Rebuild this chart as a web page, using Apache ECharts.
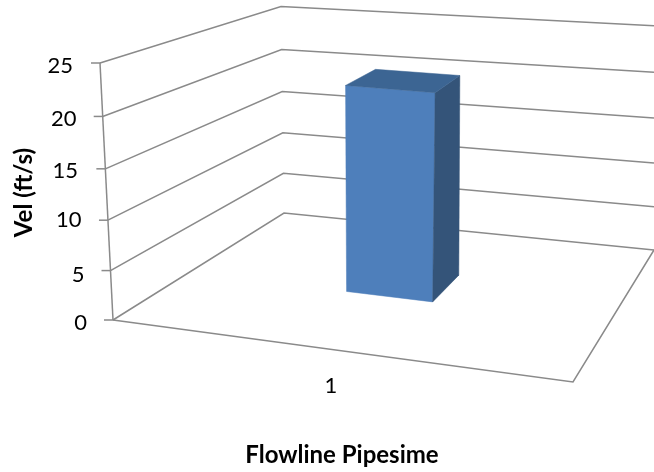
<!DOCTYPE html>
<html><head><meta charset="utf-8">
<style>html,body{margin:0;padding:0;background:#fff}#c{width:654px;height:472px}</style>
<script src="https://cdn.jsdelivr.net/npm/echarts@6/dist/echarts.min.js"></script>
</head><body><div id="c"></div>
<script>
const categories = ['1'];
const velocities = [21.5];
const valueTicks = [0, 5, 10, 15, 20, 25];
const xAxisTitle = 'Flowline Pipesime';
const yAxisTitle = 'Vel (ft/s)';

// Oblique view of the box: screen position of its corners
const FL = [113, 320], BL = [284, 213], BR = [654, 250], FR = [573, 382];
const hFL = [-13, -257], hBL = [-3, -206.5], hBR = [0, -224.3], hFR = [20, -275];
const PERSPECTIVE = 0.05;
const FONT = 'Lato, "Open Sans", sans-serif';
const LINE = '#8a8a8a';
const footprint = {u0: 0.375, u1: 0.58, d0: 0.445, d1: 0.665};
// per-label nudges of the slanted value axis [down, left]
const labelShift = {0: [4, 13], 5: [10, 15.5], 10: [4, 18.5], 15: [8, 22], 20: [7, 23.5], 25: [4, 27]};

function lerp(a, b, t) { return [a[0] + (b[0] - a[0]) * t, a[1] + (b[1] - a[1]) * t]; }
function project(u, d, f) {
  const base = lerp(lerp(FL, FR, u), lerp(BL, BR, u), d);
  const h = lerp(lerp(hFL, hFR, u), lerp(hBL, hBR, u), d);
  const g = f / (1 + PERSPECTIVE * (1 - f));
  return [base[0] + h[0] * g, base[1] + h[1] * g];
}
function fraction(api, v) {
  const y0 = api.coord([0, 0])[1], y1 = api.coord([0, valueTicks[valueTicks.length - 1]])[1];
  return (y0 - api.coord([0, v])[1]) / (y0 - y1);
}
function seg(pts) {
  return {type: 'polyline', shape: {points: pts}, silent: true,
    style: {fill: null, stroke: LINE, lineWidth: 1.5}};
}
function face(pts, color) {
  return {type: 'polygon', shape: {points: pts}, style: {fill: color, stroke: color, lineWidth: 0.5}};
}
function renderFrame(params, api) {
  const v = api.value(1), f = fraction(api, v);
  const a = project(0, 0, f), b = project(0, 1, f), c = project(1, 1, f);
  const children = [
    seg([a, b, c]),
    seg([[a[0] - 9, a[1]], a])
  ];
  if (v === 0) {
    children.push(seg([a, FR, BR]));
    children.push(seg([a, project(0, 0, 1)]));
  }
  return {type: 'group', children};
}
function renderBar(params, api) {
  const f = fraction(api, api.value(1));
  const {u0, u1, d0, d1} = footprint;
  const fbl = project(u0, d0, 0), fbr = project(u1, d0, 0), bbr = project(u1, d1, 0);
  const ftl = project(u0, d0, f), ftr = project(u1, d0, f), btr = project(u1, d1, f), btl = project(u0, d1, f);
  return {type: 'group', children: [
    face([fbl, fbr, ftr, ftl], '#4e7fbb'),
    face([fbr, bbr, btr, ftr], '#345479'),
    face([ftl, ftr, btr, btl], '#3c6593')
  ]};
}
const rich = {};
valueTicks.forEach(t => {
  rich['t' + t] = {fontFamily: FONT, fontSize: 22, color: '#000',
    padding: [labelShift[t][0], labelShift[t][1], 0, 0]};
});
const chart = echarts.init(document.getElementById('c'), null, {renderer: 'canvas'});
chart.setOption({
  animation: false,
  backgroundColor: '#fff',
  grid: {left: 100, right: 92, top: 64, bottom: 151},
  xAxis: {
    type: 'category', data: categories,
    axisLine: {show: false}, axisTick: {show: false}, splitLine: {show: false},
    axisLabel: {margin: 54, fontFamily: FONT, fontSize: 22, color: '#000'},
    name: xAxisTitle, nameLocation: 'middle', nameGap: 122,
    nameTextStyle: {fontFamily: FONT, fontSize: 24, fontWeight: 'bold', color: '#000', padding: [0, 0, 0, 22]}
  },
  yAxis: {
    type: 'value', min: 0, max: 25, interval: 5,
    axisLine: {show: false}, axisTick: {show: false}, splitLine: {show: false},
    axisLabel: {margin: 0, formatter: v => `{t${v}|${v}}`, rich},
    name: yAxisTitle, nameLocation: 'middle', nameGap: 53,
    nameTextStyle: {fontFamily: FONT, fontSize: 24, fontWeight: 'bold', color: '#000'}
  },
  series: [
    {type: 'custom', coordinateSystem: 'cartesian2d', clip: false, silent: true, z: 1,
     renderItem: renderFrame, data: valueTicks.map(t => [0, t])},
    {type: 'custom', coordinateSystem: 'cartesian2d', clip: false, z: 2,
     renderItem: renderBar, data: velocities.map((v, i) => [i, v])}
  ]
});
</script></body></html>
